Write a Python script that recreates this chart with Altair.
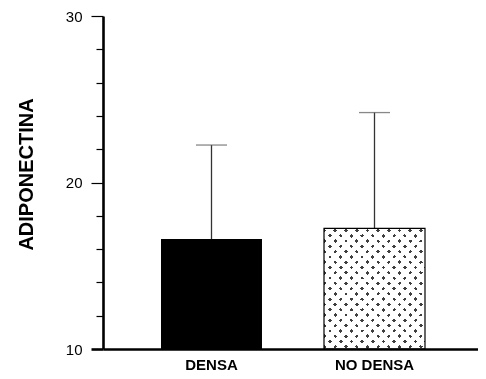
import altair as alt
import pandas as pd

groups = ["DENSA", "NO DENSA"]
means = [16.6, 17.25]
upper = [22.25, 24.2]

y_ticks = [10, 12, 14, 16, 18, 20, 22, 24, 26, 28, 30]

df = pd.DataFrame({"grupo": groups, "media": means, "sup": upper})

FONT = "Liberation Sans"


def stripes(period=0.043, dark=0.015, phase=0.004, color="#222222"):
    stops = [alt.GradientStop(offset=0, color="white")]
    s = phase
    while s + dark < 1:
        stops.append(alt.GradientStop(offset=round(s, 4), color="white"))
        stops.append(alt.GradientStop(offset=round(s, 4), color=color))
        stops.append(alt.GradientStop(offset=round(s + dark, 4), color=color))
        stops.append(alt.GradientStop(offset=round(s + dark, 4), color="white"))
        s += period
    stops.append(alt.GradientStop(offset=1, color="white"))
    return stops


k = 1.21
grad1 = alt.Gradient(gradient="linear", stops=stripes(), x1=0, y1=0, x2=1, y2=k)
grad2 = alt.Gradient(gradient="linear", stops=stripes(), x1=0, y1=1, x2=1, y2=1 - k)

x_enc = alt.X(
    "grupo:N",
    sort=groups,
    scale=alt.Scale(paddingInner=0.3804, paddingOuter=0.3405, align=0.5225),
    axis=alt.Axis(
        title=None,
        labelAngle=0,
        ticks=False,
        tickSize=0,
        labelPadding=8,
        labelFont=FONT,
        labelFontSize=15,
        labelFontWeight="bold",
        labelColor="black",
        domainColor="black",
        domainWidth=2.6,
        zindex=2,
    ),
)

y_scale = alt.Scale(domain=[10, 30], zero=False, nice=False)

y_axis = alt.Axis(
    title="ADIPONECTINA",
    values=y_ticks,
    labelOverlap=False,
    labelExpr="datum.value % 10 === 0 ? datum.label : ''",
    tickSize={"condition": {"test": "datum.value % 10 === 0", "value": 12}, "value": 7},
    tickWidth={"condition": {"test": "datum.value === 10", "value": 2.6}, "value": 1.2},
    tickColor="black",
    labelPadding=9,
    labelFont=FONT,
    labelFontSize=15,
    labelColor="black",
    domainColor="black",
    domainWidth=2.6,
    grid=False,
    titleFont=FONT,
    titleFontSize=20,
    titleFontWeight="bold",
    titleColor="black",
    titleAngle=270,
    titleAlign="center",
    titleBaseline="alphabetic",
    titleX=-71,
    titleY=158,
    zindex=2,
)

y_enc = alt.Y("media:Q", scale=y_scale, axis=y_axis)

base = alt.Chart(df)

bar_solid = base.transform_filter(alt.datum.grupo == "DENSA").mark_bar(color="black").encode(
    x=x_enc, y=y_enc, y2=alt.datum(10)
)
bar_p1 = base.transform_filter(alt.datum.grupo == "NO DENSA").mark_bar(fill=grad1).encode(
    x=x_enc, y=y_enc, y2=alt.datum(10)
)
bar_p2 = base.transform_filter(alt.datum.grupo == "NO DENSA").mark_bar(fill=grad2, blend="screen").encode(
    x=x_enc, y=y_enc, y2=alt.datum(10)
)
bar_border = base.transform_filter(alt.datum.grupo == "NO DENSA").mark_bar(
    fillOpacity=0, stroke="black", strokeWidth=1.2
).encode(x=x_enc, y=y_enc, y2=alt.datum(10))

err = base.mark_rule(color="#333333", strokeWidth=1.3).encode(
    x=x_enc, y=y_enc, y2="sup:Q"
)
cap = base.mark_tick(color="#555555", size=31, thickness=1.3).encode(
    x=x_enc, y=alt.Y("sup:Q", scale=y_scale, axis=y_axis)
)

chart = (
    alt.layer(bar_solid, err, cap, bar_p1, bar_p2, bar_border)
    .properties(
        width=375,
        height=333,
        autosize=alt.AutoSizeParams(type="none"),
        padding={"left": 95, "top": 8, "right": 0, "bottom": 22},
        background="white",
    )
    .configure_view(stroke="transparent", strokeWidth=0)
)

chart.save("out.html", embed_options={"renderer": "svg", "actions": False})
